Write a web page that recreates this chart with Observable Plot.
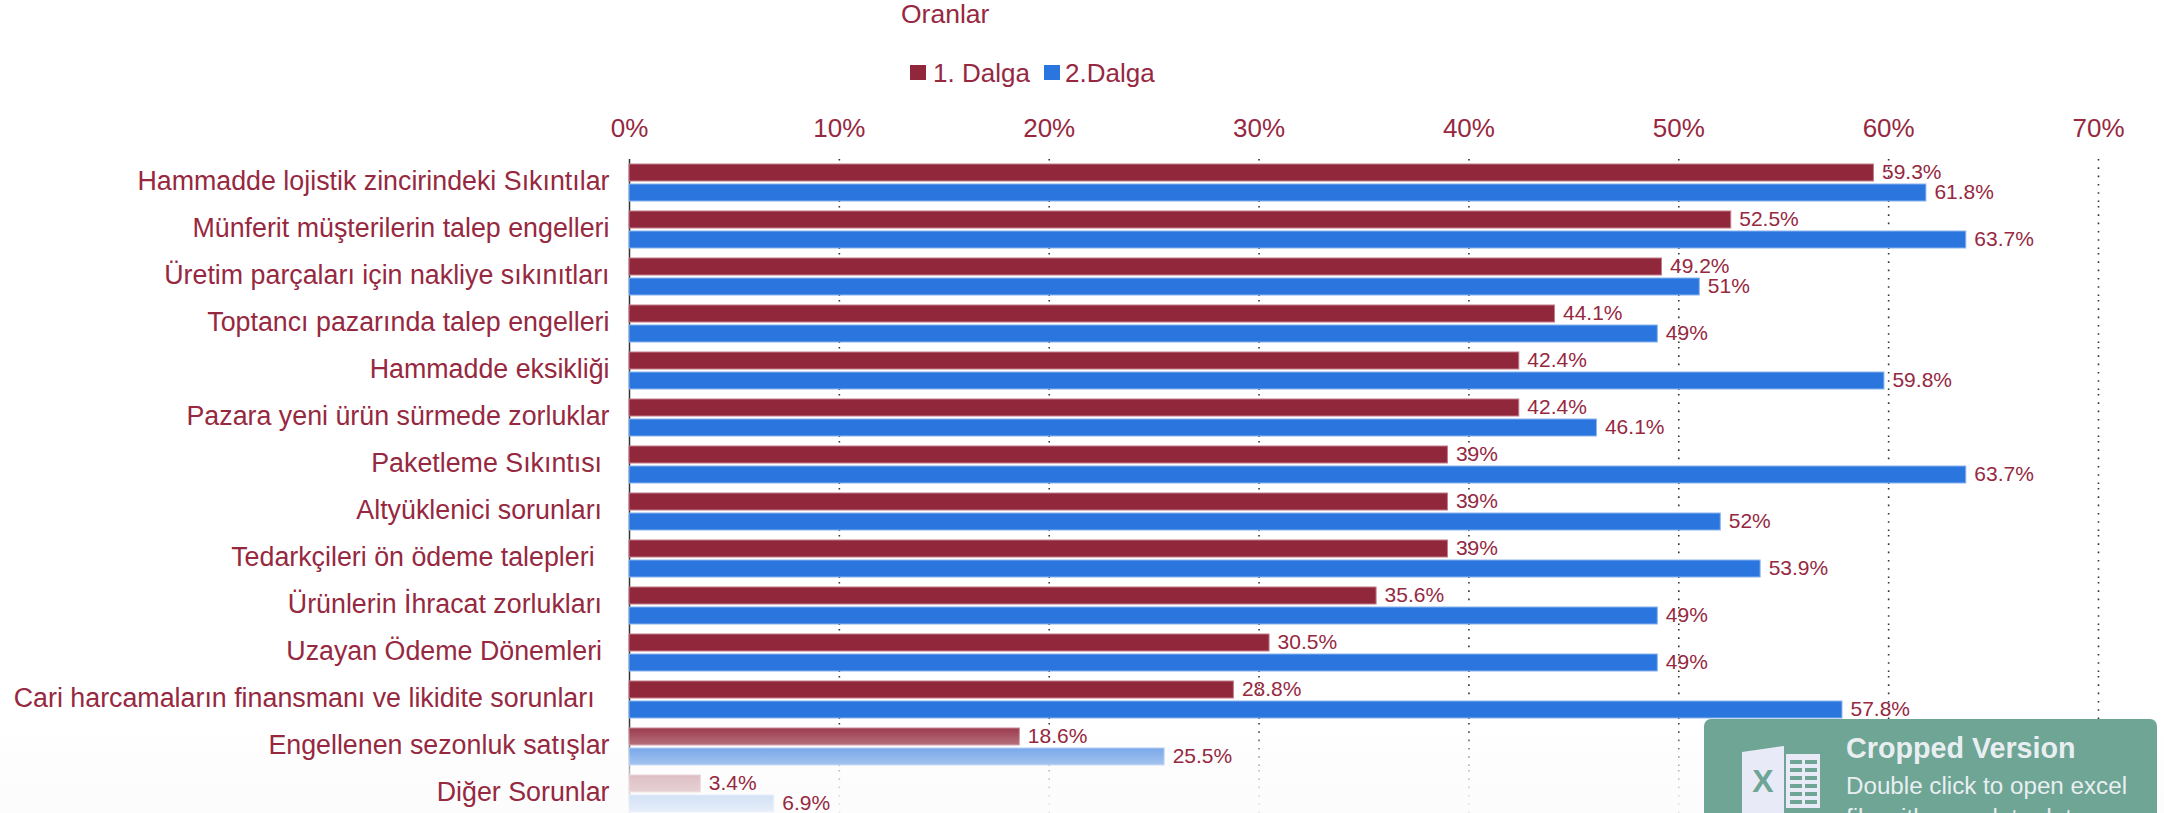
<!DOCTYPE html>
<html lang="tr">
<head>
<meta charset="utf-8">
<script src="https://cdn.jsdelivr.net/npm/d3@7"></script>
<script src="https://cdn.jsdelivr.net/npm/@observablehq/plot@0.6"></script>
<style>
  html, body { margin: 0; padding: 0; background: #fff; width: 2164px; height: 813px; overflow: hidden; }
  body { position: relative; font-family: "Liberation Sans", Arial, sans-serif; color: #96283f; }
  #header { position: relative; height: 110px; }
  #title { position: absolute; left: 901px; top: 0; font-size: 26.5px; line-height: 28px; }
  .swatch { position: absolute; top: 65px; width: 16px; height: 15px; }
  .legend-label { position: absolute; top: 59px; font-size: 26px; line-height: 28px; }
  #chart svg { display: block; }
  #chart svg text { white-space: pre; }
  #badge { position: absolute; left: 1704px; top: 719px; width: 453px; height: 94px; background: #6ea595; border-radius: 7px 7px 0 0; overflow: hidden; color: #e9eff1; }
  #badge svg { position: absolute; left: 38px; top: 27px; }
  #badge .head { position: absolute; left: 142px; top: 14px; font-size: 28.7px; line-height: 30px; font-weight: bold; white-space: nowrap; }
  #badge .sub { position: absolute; left: 142px; top: 51px; font-size: 24.2px; line-height: 32px; white-space: nowrap; }
</style>
</head>
<body>
<div id="header">
  <div id="title">Oranlar</div>
  <div class="swatch" style="left:910px;background:#91273b"></div>
  <div class="legend-label" style="left:933px">1. Dalga</div>
  <div class="swatch" style="left:1044px;background:#2a75de"></div>
  <div class="legend-label" style="left:1065px">2.Dalga</div>
</div>
<div id="chart"></div>
<div id="badge">
  <svg width="80" height="67" viewBox="0 0 80 67">
    <path d="M0 6 L42 0 L42 67 L0 67 Z" fill="#e9eaf8"/>
    <text x="21" y="46" text-anchor="middle" font-size="32" font-weight="bold" fill="#6ea595" font-family="Liberation Sans">X</text>
    <path d="M44 8 H78 V62 H44 Z" fill="#e9eaf8"/>
    <path d="M48 16 H60 M63 16 H75 M48 24 H60 M63 24 H75 M48 32 H60 M63 32 H75 M48 40 H60 M63 40 H75 M48 48 H60 M63 48 H75 M48 56 H60 M63 56 H75" stroke="#6ea595" stroke-width="4"/>
  </svg>
  <div class="head">Cropped Version</div>
  <div class="sub">Double click to open excel<br>file with complete data</div>
</div>
<script>
const categories = [
  "Hammadde lojistik zincirindeki Sıkıntılar",
  "Münferit müşterilerin talep engelleri",
  "Üretim parçaları için nakliye sıkınıtları",
  "Toptancı pazarında talep engelleri",
  "Hammadde eksikliği",
  "Pazara yeni ürün sürmede zorluklar",
  "Paketleme Sıkıntısı ",
  "Altyüklenici sorunları ",
  "Tedarkçileri ön ödeme talepleri  ",
  "Ürünlerin İhracat zorlukları ",
  "Uzayan Ödeme Dönemleri ",
  "Cari harcamaların finansmanı ve likidite sorunları  ",
  "Engellenen sezonluk satışlar",
  "Diğer Sorunlar"
];
const dalga1 = [59.3, 52.5, 49.2, 44.1, 42.4, 42.4, 39, 39, 39, 35.6, 30.5, 28.8, 18.6, 3.4];
const dalga2 = [61.8, 63.7, 51, 49, 59.8, 46.1, 63.7, 52, 53.9, 49, 49, 57.8, 25.5, 6.9];
const seriesNames = ["1. Dalga", "2.Dalga"];
const seriesColors = ["#91273b", "#2a75de"];
const seriesEdges = ["#c27c8a", "#8ab4ee"];
const gridTicks = [10, 20, 30, 40, 50, 60, 70];
const axisTicks = [0, 10, 20, 30, 40, 50, 60, 70];

const rows = categories.flatMap((c, i) => [
  {category: c, series: seriesNames[0], value: dalga1[i]},
  {category: c, series: seriesNames[1], value: dalga2[i]}
]);
const textColor = "#96283f";

// Fade-out veil over the lowest rows. A function mark runs once per facet, so only
// the first facet (which sits at the frame origin) draws it.
let fadeDrawn = false;
function fade(index, scales, values, dims) {
  if (fadeDrawn) return null;
  fadeDrawn = true;
  const ns = "http://www.w3.org/2000/svg";
  const g = document.createElementNS(ns, "g");
  const defs = document.createElementNS(ns, "defs");
  const grad = document.createElementNS(ns, "linearGradient");
  grad.setAttribute("id", "fadeOut");
  grad.setAttribute("x1", "0"); grad.setAttribute("x2", "0");
  grad.setAttribute("y1", "0"); grad.setAttribute("y2", "1");
  [[0, 0], [0.28, 0.38], [0.47, 0.6], [0.6, 0.74], [0.86, 0.85], [1, 0.93]].forEach(([o, a]) => {
    const s = document.createElementNS(ns, "stop");
    s.setAttribute("offset", o);
    s.setAttribute("stop-color", "#fcfcfc");
    s.setAttribute("stop-opacity", a);
    grad.appendChild(s);
  });
  defs.appendChild(grad);
  g.appendChild(defs);
  const r = document.createElementNS(ns, "rect");
  r.setAttribute("x", 0);
  r.setAttribute("y", 610);
  r.setAttribute("width", 2164);
  r.setAttribute("height", 97);
  r.setAttribute("fill", "url(#fadeOut)");
  g.appendChild(r);
  return g;
}

const chart = Plot.plot({
  width: 2164,
  height: 707,
  marginTop: 48,
  marginLeft: 629,
  marginRight: 66,
  marginBottom: 0,
  style: {background: "transparent", fontFamily: "Liberation Sans, Arial, sans-serif", overflow: "hidden"},
  x: {domain: [0, 70], axis: null},
  fy: {domain: categories, padding: 0, axis: null},
  y: {domain: seriesNames, paddingInner: 0.15, paddingOuter: 0.25, axis: null},
  color: {domain: seriesNames, range: seriesColors},
  marks: [
    Plot.ruleX(gridTicks, {x: d => d, stroke: "#333", strokeWidth: 1.6, strokeDasharray: "1.6 6.7"}),
    Plot.ruleX([0], {stroke: "#333", strokeWidth: 1.5}),
    Plot.barX(rows, {
      x: "value", y: "series", fy: "category",
      fill: "series",
      stroke: d => seriesEdges[seriesNames.indexOf(d.series)],
      strokeWidth: 1
    }),
    fade,
    Plot.text(rows, {
      x: "value", y: "series", fy: "category",
      text: d => d.value + "%",
      textAnchor: "start", dx: 8, dy: -1, fontSize: 21, fill: textColor
    }),
    Plot.axisFy({anchor: "left", label: null, tickSize: 0, tickPadding: 20, dy: -2, fontSize: 26.8, color: textColor, fill: textColor}),
    Plot.axisX(axisTicks, {anchor: "top", label: null, tickSize: 0, tickPadding: 22.5, fontSize: 26, color: textColor, fill: textColor, tickFormat: d => d + "%"})
  ]
});
document.getElementById("chart").appendChild(chart);
</script>
</body>
</html>
